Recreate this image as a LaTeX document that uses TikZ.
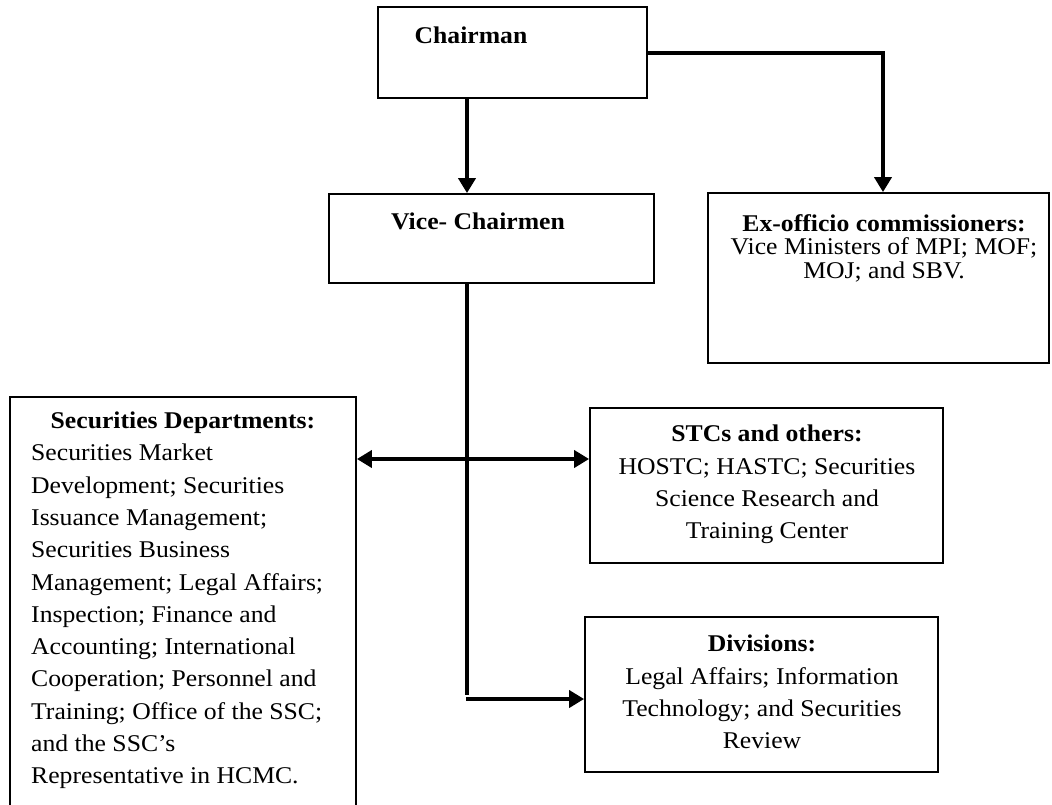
\documentclass[tikz,border=0pt]{standalone}
\usepackage{fontspec}
\setmainfont{Liberation Serif}[FakeStretch=1.07]
\usetikzlibrary{arrows.meta,calc}
\begin{document}
\begin{tikzpicture}[x=1pt,y=-1pt,
  box/.style={draw,line width=1.8pt,inner sep=0pt},
  wire/.style={line width=4pt},
  conn/.style={wire,-{Triangle[length=15pt,width=17pt]}},
  dconn/.style={wire,{Triangle[length=15pt,width=17pt]}-{Triangle[length=15pt,width=17pt]}},
  txt/.style={inner sep=0pt,font=\fontsize{24}{32.3}\selectfont,align=center},
  tight/.style={font=\fontsize{24}{23.5}\selectfont},
  hd/.style={inner sep=0pt,font=\fontsize{24}{29}\selectfont\bfseries}
]
\useasboundingbox (0,0) rectangle (1052,804);
\clip (0,0) rectangle (1052,804);

% boxes
\node[box,minimum width=269pt,minimum height=91pt] (ch) at (512.5,52.5) {};
\node[box,minimum width=325pt,minimum height=89pt] (vc) at (491.5,238.5) {};
\node[box,minimum width=341pt,minimum height=170pt] (ex) at (878.5,278) {};
\node[box,minimum width=346pt,minimum height=412pt] (sec) at (183,603) {};
\node[box,minimum width=353pt,minimum height=155pt] (stc) at (766.5,485.5) {};
\node[box,minimum width=353pt,minimum height=155pt] (div) at (761.5,694.5) {};

% texts
\node[hd,anchor=base] (tch) at (471,43) {Chairman};
\node[hd,anchor=base] (tvc) at (478,229) {Vice- Chairmen};
\node[txt,tight,anchor=north] (tex) at (884,214)
  {\textbf{Ex-officio commissioners:}\\Vice Ministers of MPI; MOF;\\MOJ; and SBV.};
\node[txt,anchor=north] (tstc) at (767,425)
  {\textbf{STCs and others:}\\HOSTC; HASTC; Securities\\Science Research and\\Training Center};
\node[txt,anchor=north] (tdiv) at (762,635)
  {\textbf{Divisions:}\\Legal Affairs; Information\\Technology; and Securities\\Review};
\node[hd,anchor=base] (tsech) at (183,428) {Securities Departments:};
\node[txt,align=left,anchor=north west] (tsec) at (31,444)
  {Securities Market\\Development; Securities\\Issuance Management;\\Securities Business\\Management; Legal Affairs;\\Inspection; Finance and\\Accounting; International\\Cooperation; Personnel and\\Training; Office of the SSC;\\and the SSC’s\\Representative in HCMC.};

% connectors
\coordinate (spine) at (467,0);
\coordinate (dy) at (0,459);
\coordinate (spend) at (467,695);
\coordinate (elb) at (466,699);
\draw[conn] (ch.south -| spine) -- (vc.north -| spine);
\draw[conn] (ch.east) -| (ex.north -| 883,0);
\draw[wire] (vc.south -| spine) -- (spend);
\draw[conn] (elb) -- (div.west |- elb);
\draw[dconn] (sec.east |- dy) -- (stc.west |- dy);
\end{tikzpicture}
\end{document}
